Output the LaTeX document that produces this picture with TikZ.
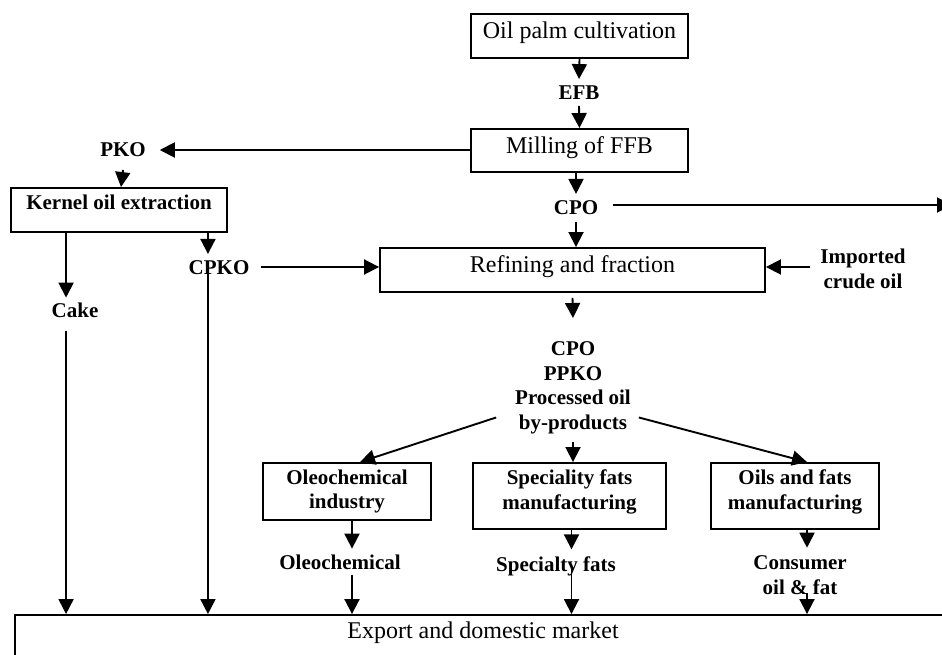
\documentclass[tikz,border=0pt]{standalone}
\usepackage{fontspec}
\setmainfont{Liberation Serif}
\usetikzlibrary{arrows.meta,calc}
\begin{document}
\begin{tikzpicture}[x=1pt,y=-1pt,
  plainbox/.style={draw,line width=1.9pt,inner sep=2pt,
    font=\fontsize{24}{28}\selectfont,text height=17pt,text depth=11.5pt},
  boldbox/.style={draw,line width=1.9pt,inner sep=2pt,
    font=\fontsize{21}{24.5}\selectfont\bfseries,align=center},
  lbl/.style={inner sep=0pt,outer sep=0pt,
    font=\fontsize{21}{24.5}\selectfont\bfseries,align=center},
  arr/.style={line width=1.9pt,-{Triangle[length=15pt,width=15pt]}},
  ln/.style={line width=1.9pt}]
\clip (0,0) rectangle (942,655);

% process boxes
\node[plainbox,minimum width=217pt,minimum height=44pt] (cult) at (579.5,36) {Oil palm cultivation};
\node[plainbox,minimum width=217pt,minimum height=43pt] (mill) at (579.5,150.5) {Milling of FFB};
\node[boldbox,minimum width=216pt,minimum height=44pt,text height=15pt,text depth=15pt] (kern) at (119,210) {Kernel oil extraction};
\node[plainbox,minimum width=385pt,minimum height=44pt] (refin) at (572.5,270) {Refining and fraction};
\node[boldbox,minimum width=168pt,minimum height=57pt] (oleo) at (347,491.5) {Oleochemical\\industry};
\node[boldbox,minimum width=193pt,minimum height=66pt] (spec) at (569.5,496) {Speciality fats\\manufacturing\rule[-13pt]{0pt}{0pt}};
\node[boldbox,minimum width=168pt,minimum height=66pt] (oils) at (795,496) {Oils and fats\\manufacturing\rule[-13pt]{0pt}{0pt}};
\node[draw,line width=1.9pt,inner sep=3pt,minimum width=936pt,minimum height=65pt,
  font=\fontsize{24}{28}\selectfont,text height=16pt,text depth=34pt] (market) at (483,647.5) {Export and domestic market};

% product labels
\node[lbl] (efb) at (579,93) {EFB};
\node[lbl] (pko) at (123,150) {PKO};
\node[lbl] (cpo1) at (576,208) {CPO};
\node[lbl] (cake) at (75,310) {Cake};
\node[lbl] (cpko) at (219,268) {CPKO};
\node[lbl] (imp) at (863,269) {Imported\\crude oil};
\node[lbl] (out) at (573,388) {CPO\\PPKO\\Processed oil\\by-products};
\node[lbl] (olab) at (340,562) {Oleochemical};
\node[lbl] (slab) at (556,566) {Specialty fats};
\node[lbl] (cons) at (800,575) {Consumer\\oil \& fat};

% helper points on box edges
\coordinate (kc) at ($(kern.south west)+(56,0)$);
\coordinate (kp) at ($(kern.south east)+(-20,0)$);
\coordinate (op) at ($(oleo.south)+(5,0)$);
\coordinate (sp) at ($(spec.south)+(2,0)$);
\coordinate (cp) at ($(oils.south)+(12,0)$);
\coordinate (edgeR) at (952,205);

% main chain
\draw[arr] (cult.south) -- ($(efb.north)+(0,-7)$);
\draw[arr] ($(efb.south)+(0,6)$) -- (mill.north);
\draw[arr] (cpo1 |- mill.south) -- ($(cpo1.north)+(0,-7)$);
\draw[arr] ($(cpo1.south)+(0,7)$) -- (cpo1 |- refin.north);
\draw[arr] ($(cpo1.east)+(15,-3)$) -- (edgeR);

% kernel branch
\draw[arr] (mill.west |- pko) -- ($(pko.east)+(14,0)$);
\draw[arr] ($(pko.south)+(0,13)$) -- ($(pko |- kern.north)+(-2,0)$);
\draw[arr] (kc) -- ($(kc |- cake.north)+(0,-5)$);
\draw[arr] (kp) -- ($(kp |- cpko.north)+(0,-7)$);
\draw[arr] ($(cpko.east)+(12,-1)$) -- ($(refin.west)+(0,-3)$);
\draw[arr] ($(imp.west)+(-10,-2)$) -- ($(refin.east)+(0,-3)$);

% refined products
\draw[arr] ($(refin.south)+(0,5)$) -- ($(out.north)+(0,-24)$);
\draw[arr] ($(out.south west)+(-19,-16.5)$) -- ($(oleo.north)+(13,0)$);
\draw[arr] ($(out.south)+(0,8.5)$) -- (spec.north -| out);
\draw[arr] ($(out.south east)+(8,-16.5)$) -- ($(oils.north)+(12,0)$);

% industries to market
\draw[arr] (op) -- ($(op |- olab.north)+(0,-6)$);
\draw[arr] ($(op |- olab.south)+(0,6)$) -- (op |- market.north);
\draw[arr] (sp) -- ($(sp |- slab.north)+(0,-7)$);
\draw[arr] (sp |- slab) -- (sp |- market.north);
\draw[arr] (cp) -- ($(cp |- cons.north)+(0,-8)$);
\draw[arr] ($(cp |- cons.south)+(0,-1)$) -- (cp |- market.north);
\draw[arr] ($(kc |- cake.south)+(0,14)$) -- (kc |- market.north);
\draw[arr] (kp |- cpko) -- (kp |- market.north);
\end{tikzpicture}
\end{document}
